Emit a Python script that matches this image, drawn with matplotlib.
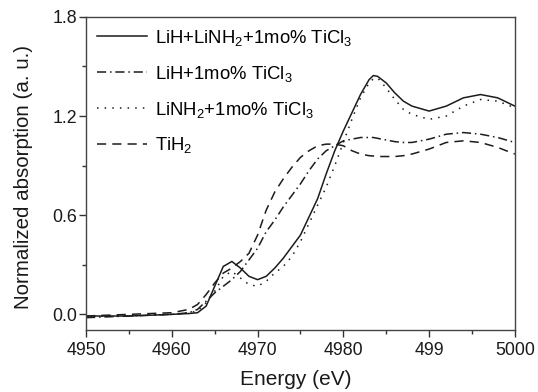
import matplotlib
matplotlib.use("Agg")
from matplotlib import pyplot as plt
from matplotlib.ticker import MultipleLocator

plt.rcParams['font.family'] = ['Liberation Sans', 'DejaVu Sans']
plt.rcParams['mathtext.fontset'] = 'custom'
plt.rcParams['mathtext.rm'] = 'Liberation Sans'
plt.rcParams['mathtext.it'] = 'Liberation Sans:italic'
plt.rcParams['mathtext.bf'] = 'Liberation Sans:bold'

# energy grid (eV)
energy = [4950, 4955, 4960, 4962, 4963, 4964, 4965, 4966, 4967, 4968, 4969, 4970,
          4971, 4972, 4973, 4974, 4975, 4976, 4977, 4978, 4979, 4980, 4981, 4982,
          4983, 4983.5, 4984, 4985, 4986, 4987, 4988, 4990, 4992, 4994, 4996, 4998, 5000]

lih_linh2 = [-0.01, -0.01, 0.0, 0.005, 0.01, 0.05, 0.17, 0.29, 0.32, 0.28, 0.23, 0.21,
             0.23, 0.28, 0.34, 0.41, 0.48, 0.59, 0.70, 0.85, 0.99, 1.11, 1.22, 1.33,
             1.42, 1.445, 1.44, 1.40, 1.34, 1.29, 1.26, 1.23, 1.26, 1.31, 1.33, 1.31, 1.26]
lih = [-0.02, -0.01, 0.0, 0.01, 0.03, 0.08, 0.13, 0.17, 0.21, 0.26, 0.33, 0.40,
       0.50, 0.57, 0.65, 0.72, 0.79, 0.87, 0.94, 0.99, 1.02, 1.05, 1.06, 1.07,
       1.07, 1.07, 1.065, 1.055, 1.045, 1.04, 1.04, 1.06, 1.09, 1.10, 1.09, 1.07, 1.04]
linh2 = [-0.01, -0.01, 0.0, 0.01, 0.02, 0.07, 0.14, 0.23, 0.26, 0.22, 0.18, 0.17,
         0.20, 0.25, 0.29, 0.35, 0.44, 0.55, 0.66, 0.77, 0.90, 1.04, 1.18, 1.31,
         1.40, 1.425, 1.43, 1.37, 1.30, 1.24, 1.21, 1.18, 1.20, 1.26, 1.30, 1.29, 1.25]
tih2 = [-0.01, 0.0, 0.01, 0.03, 0.06, 0.12, 0.19, 0.25, 0.28, 0.32, 0.37, 0.48,
        0.63, 0.74, 0.82, 0.89, 0.95, 0.99, 1.02, 1.03, 1.03, 1.02, 0.99, 0.97,
        0.96, 0.958, 0.955, 0.955, 0.955, 0.96, 0.97, 1.00, 1.04, 1.05, 1.04, 1.01, 0.97]

labels = ['LiH+LiNH$_2$+1mo% TiCl$_3$', 'LiH+1mo% TiCl$_3$',
          'LiNH$_2$+1mo% TiCl$_3$', 'TiH$_2$']
xticks = [4950, 4960, 4970, 4980, 4990, 5000]
xticklabels = ['4950', '4960', '4970', '4980', '499', '5000']
yticks = [0.0, 0.6, 1.2, 1.8]

ink = '#1c1c1c'
fig = plt.figure(figsize=(5.38, 3.92), dpi=100)
ax = fig.add_axes([0.160, 0.158, 0.797, 0.799])

ax.plot(energy, lih_linh2, color=ink, lw=1.1, label=labels[0])
ax.plot(energy, lih, color=ink, lw=1.1, dashes=(6, 2.5, 1, 2.5), label=labels[1])
ax.plot(energy, linh2, color=ink, lw=1.1, dashes=(1, 4), label=labels[2])
ax.plot(energy, tih2, color=ink, lw=1.1, dashes=(6, 4), label=labels[3])

ax.set_xlim(4950, 5000)
ax.set_ylim(-0.095, 1.8)
ax.set_xticks(xticks)
ax.set_xticklabels(xticklabels)
ax.set_yticks(yticks)
ax.set_yticklabels(['%.1f' % v for v in yticks])
ax.xaxis.set_minor_locator(MultipleLocator(5))
ax.yaxis.set_minor_locator(MultipleLocator(0.3))
ax.tick_params(which='major', direction='out', length=5, width=1, colors='#333333',
               labelsize=12.8, labelcolor='#1a1a1a')
ax.tick_params(axis='y', which='major', pad=1.5)
ax.tick_params(which='minor', direction='out', length=3, width=1, colors='#333333')
for sp in ax.spines.values():
    sp.set_color('#444444')
    sp.set_linewidth(1.0)

ax.set_xlabel('Energy (eV)', fontsize=15, color='#1a1a1a')
ax.set_ylabel('Normalized absorption (a. u.)', fontsize=14.8, color='#1a1a1a')
ax.xaxis.set_label_coords(0.49, -0.128)
# ylabel anchor is the right edge of the rotated text
ax.yaxis.set_label_coords(-0.124, 0.49)

ax.legend(loc='upper left', bbox_to_anchor=(0.026, 0.965), frameon=False,
          fontsize=13.3, handlelength=2.7, handletextpad=0.45, labelspacing=0.86,
          borderpad=0.0, borderaxespad=0.0)

fig.savefig('out.png', dpi=100)
